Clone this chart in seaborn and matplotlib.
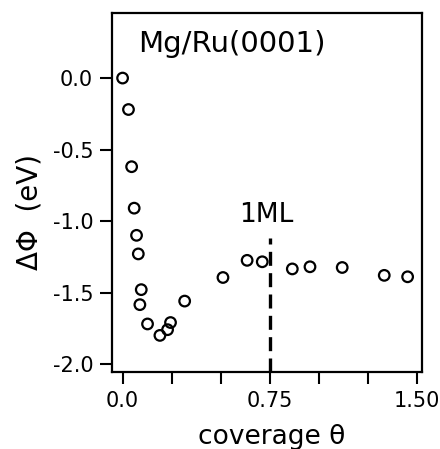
import numpy as np
import pandas as pd
import seaborn as sns
import matplotlib
matplotlib.use('Agg')
import matplotlib.pyplot as plt

sns.set_theme(style='ticks')
plt.rcParams['font.family'] = ['DejaVu Sans']
plt.rcParams['text.color'] = 'black'
plt.rcParams['axes.labelcolor'] = 'black'

# coverage (ML) vs work function change (eV)
coverage = [0.0, 0.03, 0.046, 0.059, 0.071, 0.08, 0.095, 0.088, 0.127, 0.19,
            0.229, 0.244, 0.316, 0.511, 0.634, 0.711, 0.864, 0.954, 1.118,
            1.332, 1.451]
dphi = [0.0, -0.22, -0.62, -0.91, -1.10, -1.23, -1.48, -1.585, -1.72, -1.80,
        -1.76, -1.71, -1.56, -1.395, -1.275, -1.285, -1.335, -1.32, -1.325,
        -1.38, -1.39]

xticks = [0.0, 0.25, 0.5, 0.75, 1.0, 1.25, 1.5]
xticklabels = ['0.0', '', '', '0.75', '', '', '1.50']
yticks = [0.0, -0.5, -1.0, -1.5, -2.0]
yticklabels = ['0.0', '-0.5', '-1.0', '-1.5', '-2.0']
monolayer = 0.75

df = pd.DataFrame({'coverage': coverage, 'dphi': dphi})

fig = plt.figure(figsize=(4.4, 4.49), dpi=100)
ax = fig.add_axes([0.2545, 0.1715, 0.7045, 0.7995])

sns.scatterplot(data=df, x='coverage', y='dphi', ax=ax, s=58,
                facecolor='none', edgecolor='black', linewidth=1.6, zorder=3)

ax.axvline(monolayer, ymin=0.0, ymax=(-1.12 + 2.056) / (0.455 + 2.056),
           color='black', linewidth=2.4, linestyle=(0, (4.2, 2.2)))
ax.text(0.73, -0.96, '1ML', fontsize=19, ha='center', va='center')
ax.text(0.08, 0.238, 'Mg/Ru(0001)', fontsize=21, ha='left', va='center')

ax.set_xlim(-0.054, 1.524)
ax.set_ylim(-2.056, 0.455)
ax.set_xticks(xticks)
ax.set_xticklabels(xticklabels, fontsize=15)
ax.set_yticks(yticks)
ax.set_yticklabels(yticklabels, fontsize=15)
ax.tick_params(axis='both', direction='out', length=8.5, width=1.5,
               color='black', labelcolor='black', pad=5)

for side in ax.spines.values():
    side.set_linewidth(1.6)
    side.set_color('black')

ax.set_xlabel('coverage θ', fontsize=19)
ax.set_ylabel('ΔΦ  (eV)', fontsize=20)
ax.yaxis.set_label_coords(-0.222, 0.446)
ax.xaxis.set_label_coords(0.516, -0.145)

fig.savefig('out.png', dpi=100)
